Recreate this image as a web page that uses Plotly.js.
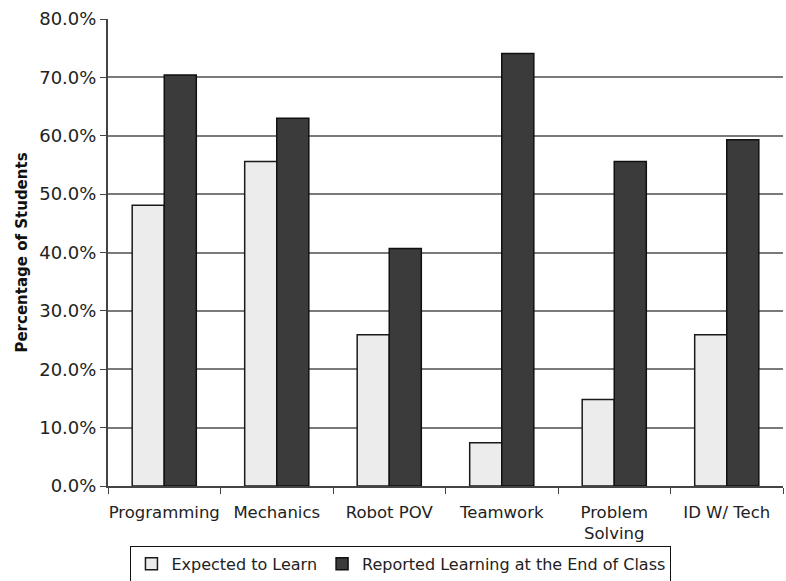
<!DOCTYPE html>
<html>
<head>
<meta charset="utf-8">
<script src="https://cdn.plot.ly/plotly-3.0.1.min.js"></script>
<style>html,body{margin:0;padding:0;background:#fff;}#chart{width:786px;height:581px;}</style>
</head>
<body>
<div id="chart"></div>
<script>
const categories = ["Programming", "Mechanics", "Robot POV", "Teamwork", "Problem<br>Solving", "ID W/ Tech"];
const expectedToLearn = [0.481, 0.556, 0.259, 0.074, 0.148, 0.259];
const reportedLearning = [0.704, 0.630, 0.407, 0.741, 0.556, 0.593];
const yTickValues = [0, 0.1, 0.2, 0.3, 0.4, 0.5, 0.6, 0.7, 0.8];

const fam = "DejaVu Sans, Verdana, sans-serif";

const traces = [
  {
    type: "bar", name: "Expected to Learn", x: categories, y: expectedToLearn,
    marker: {color: "#ececec", line: {color: "#1a1a1a", width: 1.5}}
  },
  {
    type: "bar", name: "Reported Learning at the End of Class", x: categories, y: reportedLearning,
    marker: {color: "#3b3b3b", line: {color: "#111", width: 1.5}}
  }
];

const layout = {
  width: 786, height: 581,
  margin: {l: 108, r: 3, t: 19, b: 95, autoexpand: false},
  paper_bgcolor: "#fff", plot_bgcolor: "#fff",
  font: {family: fam, size: 16, color: "#222"},
  barmode: "group",
  bargap: 0.43, bargroupgap: 0,
  showlegend: true,
  legend: {
    orientation: "h", x: 0.434, xanchor: "center", y: -0.128, yanchor: "top",
    bordercolor: "#111", borderwidth: 1, font: {family: fam, size: 16, color: "#222"},
    itemwidth: 30, tracegroupgap: 0, traceorder: "normal"
  },
  xaxis: {
    type: "category", tickson: "boundaries", ticks: "outside", ticklen: 6, tickcolor: "#444",
    tickangle: 0, automargin: false, ticklabelstandoff: 10,
    showline: true, linecolor: "#444", linewidth: 2, showgrid: false,
    tickfont: {family: fam, size: 16.5, color: "#222"}
  },
  yaxis: {
    range: [0, 0.8], tickvals: yTickValues, tickformat: ".1%", automargin: false,
    ticks: "outside", ticklen: 6, tickcolor: "#444",
    showline: true, linecolor: "#444", linewidth: 2,
    showgrid: true, gridcolor: "#7a7a7a", gridwidth: 2, zeroline: false,
    tickfont: {family: fam, size: 18, color: "#222"},
    title: {text: "Percentage of Students", font: {family: fam, size: 15, color: "#111", weight: "bold"}, standoff: 8}
  }
};

Plotly.newPlot("chart", traces, layout, {displayModeBar: false, staticPlot: true});
</script>
</body>
</html>
